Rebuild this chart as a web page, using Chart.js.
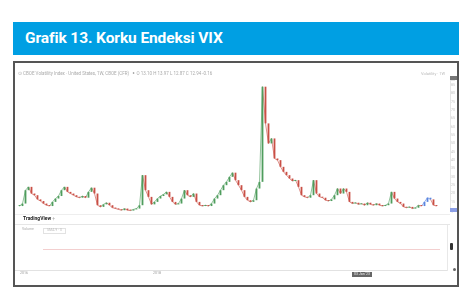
<!DOCTYPE html>
<html>
<head>
<meta charset="utf-8">
<script src="https://cdn.jsdelivr.net/npm/chart.js@4"></script>
<style>
  html,body{margin:0;padding:0;background:#fff;}
  body{width:467px;height:304px;position:relative;overflow:hidden;font-family:Roboto,"Liberation Sans",sans-serif;}
  .abs{position:absolute;}
  #hdr{left:13px;top:22px;width:446px;height:33px;background:#009fe3;}
  #hdr span{position:absolute;left:12px;top:7px;color:#fff;font:700 15.5px Roboto,sans-serif;letter-spacing:-0.1px;white-space:nowrap;}
  #frame{left:13px;top:61px;width:442px;height:222px;border:2px solid #555;}
  #c{left:15px;top:63px;}
  .t{font-family:Roboto,sans-serif;white-space:nowrap;line-height:1;}
</style>
</head>
<body>
<div id="hdr" class="abs"><span>Grafik 13. Korku Endeksi VIX</span></div>
<div id="frame" class="abs"></div>
<canvas id="c" class="abs" width="442" height="152"></canvas>

<!-- TradingView-style overlay texts -->
<div class="abs t" style="left:18px;top:72px;font-size:4.5px;color:#aaa;">⊙ CBOE Volatility Index · United States, 1W, CBOE (CFR) &nbsp; ∘ O 13.10 H 13.97 L 12.87 C 12.94 -0.16</div>
<div class="abs t" style="left:421px;top:72px;font-size:4px;color:#bbb;">Volatility · 1W</div>
<div class="abs" style="left:450px;top:76px;width:7px;height:4px;background:#777;"></div>
<div class="abs" style="left:450px;top:208px;width:7px;height:4px;background:#8c9fe6;"></div>
<div class="abs" style="left:15px;top:214px;width:435px;height:1px;background:#eee;"></div>
<div class="abs t" style="left:23px;top:216px;font-size:5px;font-weight:700;color:#222;">TradingView <span style="font-weight:400;color:#aaa;">+</span></div>
<div class="abs" style="left:15px;top:224px;width:435px;height:1px;background:#e6e6e6;"></div>
<div class="abs t" style="left:22px;top:228px;font-size:3.5px;color:#aaa;">Volume &nbsp;</div>
<div class="abs t" style="left:43px;top:228px;font-size:3.5px;color:#bbb;border:0.5px solid #e2e2e2;padding:0 3px;">SMA 9 · 0</div>
<div class="abs" style="left:43px;top:249px;width:397px;height:1px;background:#f3cfcf;"></div>
<div class="abs" style="left:447px;top:225px;width:1px;height:46px;background:#e8e8e8;"></div>
<div class="abs" style="left:450px;top:243px;width:3px;height:7px;background:#333;border-radius:1px;"></div>
<div class="abs" style="left:453px;top:268px;width:3px;height:3px;background:#666;border-radius:2px;"></div>
<div class="abs" style="left:15px;top:270px;width:432px;height:1px;background:#e2e2e2;"></div>
<div class="abs t" style="left:20px;top:272px;font-size:3.5px;color:#999;">2016</div>
<div class="abs t" style="left:153px;top:272px;font-size:3.5px;color:#999;">2018</div>
<div class="abs t" style="left:352px;top:272px;font-size:3.5px;color:#eee;background:#666;padding:0.5px 2px;">03 Jan '23</div>

<script>
// Weekly-style VIX closes (index units)
const closes = [
  12.5, 14, 22, 24, 20, 19, 16.5, 15.5, 14, 13,
  12.5, 15, 17, 18.5, 22, 24, 21, 20, 19, 18,
  17.5, 18.5, 17.5, 21, 23.5, 20, 13, 12, 13.5, 14.5,
  13, 11.5, 11, 10.5, 10, 11, 10, 9.8, 10.5, 11,
  13, 31, 22, 18, 13.5, 15, 17, 18.5, 19.5, 21,
  18, 15, 13.5, 14, 17, 22, 19, 18, 20, 15,
  13, 12.5, 13, 12.5, 14, 17, 19, 22, 25, 27,
  30, 32.5, 28, 25, 22, 18, 16, 15, 16, 23,
  27, 84, 62, 50, 53, 41, 40, 36, 33, 31,
  29, 27.5, 28, 24, 19, 18, 17.5, 19, 28, 20,
  18, 17.5, 16, 15.5, 16.5, 19, 23, 20, 23, 21,
  15, 14, 14.5, 13.5, 14, 13, 14.5, 13.5, 13, 14,
  13, 12.5, 13, 14, 21, 17, 15, 14, 12, 11.5,
  12, 11, 11.5, 13, 12.5, 15, 17.5, 16.5, 13, 12.5
];
// indices of the last candles drawn in blue in the reference
const blueCandles = [135, 136, 137];
const emptySlots = 4;
const yMin = 9, yMax = 88, yStep = 5;

const upColor = '#4f9d5d', downColor = '#c94f45', blueColor = '#5b86e0';

const labels = closes.map((_, i) => 'w' + i).concat(Array.from({length: emptySlots}, () => ''));
const opens = closes.map((c, i) => i === 0 ? c : closes[i - 1]);
const bodies = closes.map((c, i) => [opens[i], c]);
const colorAt = i => blueCandles.includes(i) ? blueColor : (closes[i] >= opens[i] ? upColor : downColor);
const colors = closes.map((_, i) => colorAt(i));

new Chart(document.getElementById('c'), {
  data: {
    labels: labels,
    datasets: [{
      type: 'line',
      data: closes,
      borderWidth: 0.9,
      pointRadius: 0,
      tension: 0,
      segment: {borderColor: ctx => colorAt(ctx.p1DataIndex) + 'b0'},
      order: 2
    }, {
      type: 'bar',
      data: bodies,
      backgroundColor: colors,
      borderWidth: 0,
      barPercentage: 0.6,
      categoryPercentage: 1.0,
      minBarLength: 1,
      order: 1
    }]
  },
  options: {
    responsive: false,
    animation: false,
    events: [],
    layout: {padding: {left: 3, top: 17, bottom: 2, right: 0}},
    plugins: {legend: {display: false}, tooltip: {enabled: false}},
    scales: {
      x: {display: false, offset: true, grid: {display: false}},
      y: {
        position: 'right',
        min: yMin, max: yMax,
        grid: {display: false, drawTicks: false},
        border: {display: true, color: '#e6e6e6'},
        ticks: {stepSize: yStep, color: '#c4c4c4', font: {size: 3.5, family: 'Roboto'}, padding: 1},
        afterFit: s => { s.width = 7; }
      }
    }
  }
});
</script>
</body>
</html>
